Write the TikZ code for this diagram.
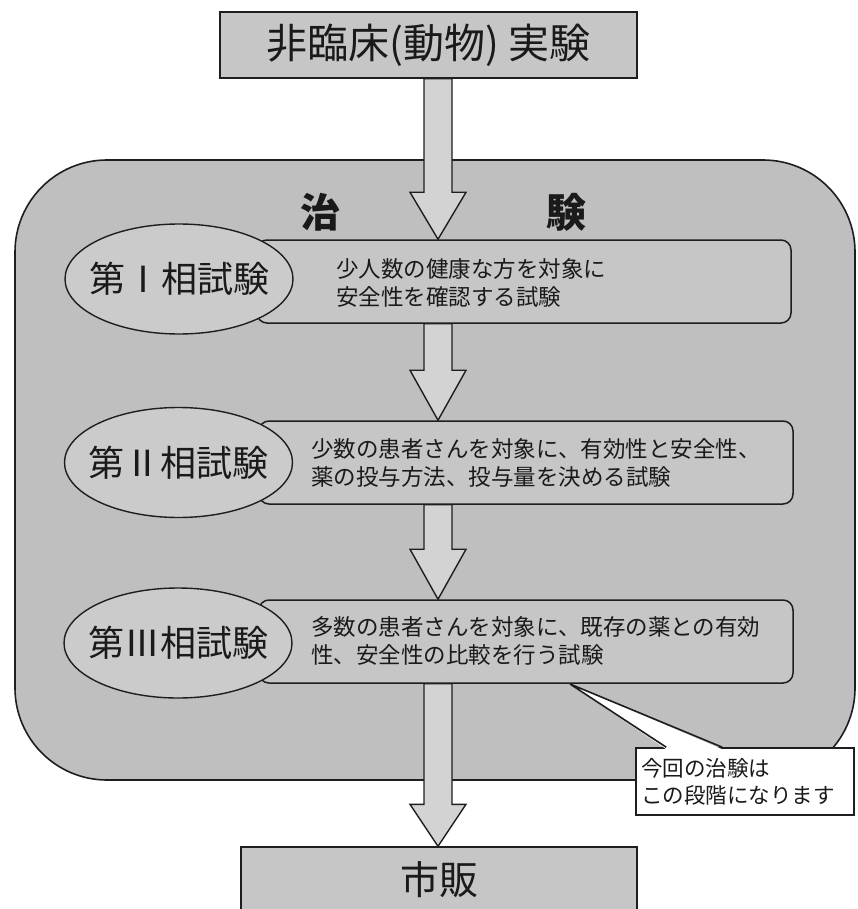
\documentclass[tikz,border=0pt]{standalone}
\usepackage{fontspec}
\setmainfont{Noto Sans CJK JP}
\usetikzlibrary{calc,shapes.geometric}
\definecolor{bigfill}{HTML}{BFBFBF}
\definecolor{boxfill}{HTML}{C6C6C6}
\definecolor{ellfill}{HTML}{CBCBCB}
\definecolor{arrfill}{HTML}{D3D3D3}
\definecolor{linec}{HTML}{1E1E1E}
\definecolor{txtc}{HTML}{1A1A1A}
\newcommand\blockarrow[3]{%
  \draw[arrowst] let \p1=(#1), \p2=(#2) in
   (\x1-14pt,\y1) -- (\x1-14pt,\y2+#3) -- (\x1-28pt,\y2+#3) -- (\x2,\y2)
   -- (\x1+28pt,\y2+#3) -- (\x1+14pt,\y2+#3) -- (\x1+14pt,\y1) -- cycle;}
\begin{document}
\begin{tikzpicture}[x=1pt,y=-1pt,
  bigbox/.style={draw=linec, line width=1.6pt, fill=bigfill, rounded corners=92pt, inner sep=0pt},
  endbox/.style={draw=linec, line width=1.4pt, fill=boxfill, inner sep=0pt, text=txtc},
  phasebox/.style={draw=linec, line width=1.5pt, fill=boxfill, rounded corners=10pt, inner sep=0pt,
    minimum width=534pt, minimum height=83pt},
  phaseell/.style={ellipse, draw=linec, line width=1.4pt, fill=ellfill, inner sep=0pt,
    minimum width=228pt, minimum height=110pt},
  elltext/.style={text=txtc, font=\fontsize{36pt}{40pt}\selectfont, inner sep=0pt},
  desc/.style={anchor=west, align=left, text=txtc, inner sep=0pt,
    font=\fontsize{22.5pt}{28.5pt}\selectfont},
  arrowst/.style={draw=linec, line width=1.4pt, fill=arrfill, line join=miter},
  notebox/.style={draw=linec, line width=1.6pt, fill=white, inner sep=0pt,
    minimum width=218pt, minimum height=67pt},
  notetext/.style={anchor=west, align=left, text=txtc, inner sep=0pt,
    font=\fontsize{21.5pt}{27pt}\selectfont}]
\useasboundingbox (0,0) rectangle (857,909);
\fill[white] (0,0) rectangle (857,909);

% container
\node[bigbox, minimum width=840pt, minimum height=620pt] (trial) at (435,470) {};
\node[text=txtc, inner sep=0pt, font=\fontsize{40pt}{44pt}\selectfont\bfseries] (trialtitle) at (443,212) {治\hspace{206pt}験};

% top and bottom boxes
\node[endbox, minimum width=417pt, minimum height=66pt, font=\fontsize{41pt}{44pt}\selectfont] (top) at (428.5,45) {非臨床(動物) 実験};
\node[endbox, minimum width=396pt, minimum height=66pt, font=\fontsize{39pt}{44pt}\selectfont] (market) at (439,880) {市販};

\coordinate (ax) at (438,0);

% phase boxes
\node[phasebox] (b1) at (524,281.5) {};
\node[phasebox] (b2) at (526,462.5) {};
\node[phasebox] (b3) at (526,641.5) {};

\node[desc] (t1) at (336,283) {少人数の健康な方を対象に\\安全性を確認する試験};
\node[desc] (t2) at (311,463) {少数の患者さんを対象に、有効性と安全性、\\薬の投与方法、投与量を決める試験};
\node[desc] (t3) at (311,641) {多数の患者さんを対象に、既存の薬との有効\\性、安全性の比較を行う試験};

% ellipses
\node[phaseell] (e1) at (179,279) {};
\node[elltext] (e1t) at (e1) {第Ⅰ相試験};
\node[phaseell] (e2) at (178.5,462.5) {};
\node[elltext] (e2t) at (e2) {第Ⅱ相試験};
\node[phaseell] (e3) at (178,643) {};
\node[elltext] (e3t) at (e3) {第Ⅲ相試験};

% arrows
\blockarrow{top.south -| ax}{b1.north -| ax}{47pt}
\blockarrow{b1.south -| ax}{b2.north -| ax}{50pt}
\blockarrow{b2.south -| ax}{b3.north -| ax}{50pt}
\blockarrow{b3.south -| ax}{market.north -| ax}{42pt}

% callout
\node[notebox] (note) at (745,781.5) {};
\coordinate (tip) at (570,684);
\fill[white] ($(note.north west)+(31,2)$) -- (tip) -- ($(note.north west)+(87,2)$) -- cycle;
\draw[linec, line width=1.6pt, line join=miter] ($(note.north west)+(31,0)$) -- (tip) -- ($(note.north west)+(87,0)$);
\node[notetext] (notet) at ($(note.west)+(6,0)$) {今回の治験は\\この段階になります};
\end{tikzpicture}
\end{document}
